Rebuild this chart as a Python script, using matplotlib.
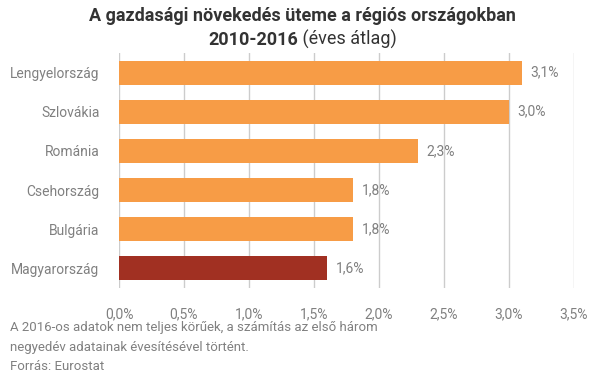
import numpy as np
import matplotlib.pyplot as plt

plt.rcParams['font.family'] = ['Roboto', 'DejaVu Sans']

countries = ['Lengyelország', 'Szlovákia', 'Románia', 'Csehország', 'Bulgária', 'Magyarország']
values = [3.1, 3.0, 2.3, 1.8, 1.8, 1.6]
labels = ['3,1%', '3,0%', '2,3%', '1,8%', '1,8%', '1,6%']
ticks = [0.0, 0.5, 1.0, 1.5, 2.0, 2.5, 3.0, 3.5]
tick_labels = ['0,0%', '0,5%', '1,0%', '1,5%', '2,0%', '2,5%', '3,0%', '3,5%']

orange = '#F79C46'
red = '#A13022'
gray = '#808080'

fig = plt.figure(figsize=(6.05, 3.78), dpi=100)
ax = fig.add_axes([119/605, 1-288/378, (574-119)/605, (288-53)/378])

y = np.arange(len(countries))
colors = [red if c == 'Magyarország' else orange for c in countries]
ax.barh(y, values, height=0.61, color=colors, zorder=3)
for yi, v, lab in zip(y, values, labels):
    ax.text(v + 0.065, yi, lab, va='center', ha='left', fontsize=10, color=gray)

ax.set_ylim(len(countries) - 0.5, -0.5)
ax.set_xlim(0, 3.5)
ax.set_yticks(y)
ax.set_yticklabels(countries, fontsize=10, color=gray)
ax.set_xticks(ticks)
ax.set_xticklabels(tick_labels, fontsize=10, color=gray)
ax.tick_params(axis='both', length=0)
ax.tick_params(axis='y', pad=14)
ax.tick_params(axis='x', pad=14)
ax.grid(axis='x', color='#cccccc', linewidth=1, zorder=0)
for s in ax.spines.values():
    s.set_visible(False)

fig.text(0.5, 1-21/378, 'A gazdasági növekedés üteme a régiós országokban',
         ha='center', va='baseline', fontsize=13, fontweight='bold', color='#333333')

# second title line: bold part + regular part, centred together
fig.canvas.draw()
r = fig.canvas.get_renderer()
t1 = fig.text(0, 1-45/378, '2010-2016', ha='left', va='baseline', fontsize=13,
              fontweight='bold', color='#333333')
t2 = fig.text(0, 1-45/378, ' (éves átlag)', ha='left', va='baseline', fontsize=13,
              color='#333333')
w1 = t1.get_window_extent(r).width
w2 = t2.get_window_extent(r).width
x0 = (605 - w1 - w2) / 2
t1.set_x(x0/605)
t2.set_x((x0 + w1)/605)

fig.text(10/605, 1-328/378, 'A 2016-os adatok nem teljes körűek, a számítás az első három',
         ha='left', va='center', fontsize=9.5, color=gray)
fig.text(10/605, 1-347/378, 'negyedév adatainak évesítésével történt.',
         ha='left', va='center', fontsize=9.5, color=gray)
fig.text(10/605, 1-366/378, 'Forrás: Eurostat',
         ha='left', va='center', fontsize=9.5, color=gray)

fig.savefig('out.png', dpi=100)
